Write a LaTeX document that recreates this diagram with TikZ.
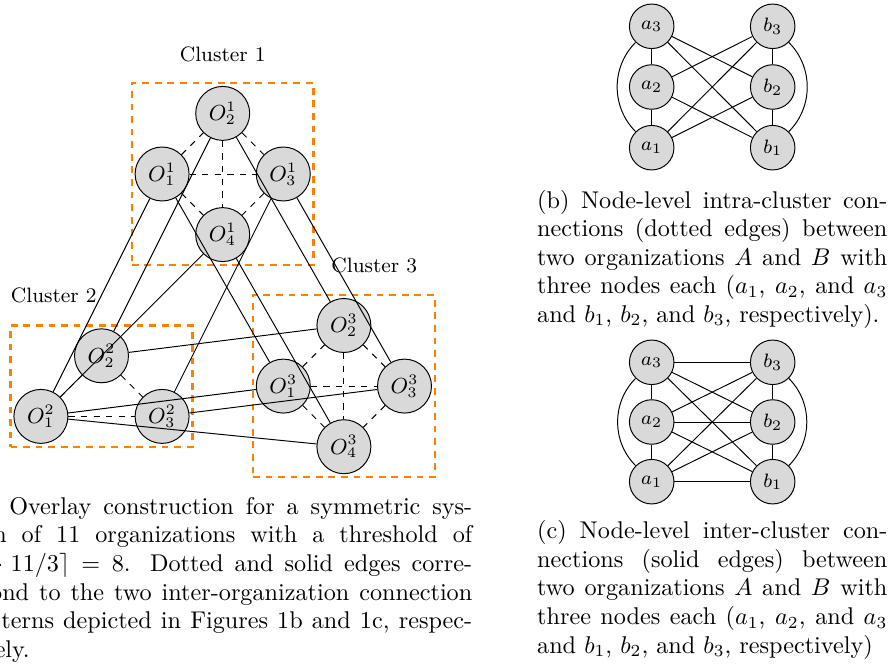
\documentclass[tikz,border=0pt]{standalone}
\usetikzlibrary{fit}
\begin{document}
\begin{tikzpicture}[x=0.4132pt,y=-0.4132pt,
  org/.style={circle,draw,fill=gray!30,inner sep=0pt,minimum size=22.3pt,
    font=\fontsize{8.6}{10}\selectfont},
  peer/.style={circle,draw,fill=gray!30,inner sep=0pt,minimum size=18.4pt,
    font=\fontsize{8.4}{10}\selectfont},
  intra/.style={dash pattern=on 2.6pt off 2.6pt},
  cluster/.style={draw=orange,line width=1pt,dash pattern=on 2.8pt off 2.4pt,inner sep=1.2pt},
  clabel/.style={font=\fontsize{8.6}{10}\selectfont,inner sep=0pt},
  capline/.style={anchor=base west,inner sep=0pt,font=\fontsize{10}{12}\selectfont}]
\useasboundingbox (0,0) rectangle (889,667);

% ---- overlay of three clusters ----
% cluster 1
\node[org] (o11) at (162.1,174.0) {$O^1_1$};
\node[org] (o12) at (222.7,113.4) {$O^1_2$};
\node[org] (o13) at (283.3,174.0) {$O^1_3$};
\node[org] (o14) at (222.7,234.6) {$O^1_4$};
% cluster 2
\node[org] (o21) at (40.9,416.4) {$O^2_1$};
\node[org] (o22) at (101.5,355.8) {$O^2_2$};
\node[org] (o23) at (162.1,416.4) {$O^2_3$};
% cluster 3
\node[org] (o31) at (283.3,386.1) {$O^3_1$};
\node[org] (o32) at (343.9,325.5) {$O^3_2$};
\node[org] (o33) at (404.5,386.1) {$O^3_3$};
\node[org] (o34) at (343.9,446.7) {$O^3_4$};

% cluster frames and titles
\node[cluster,fit=(o11)(o12)(o13)(o14)] (c1) {};
\node[cluster,fit=(o21)(o22)(o23)] (c2) {};
\node[cluster,fit=(o31)(o32)(o33)(o34)] (c3) {};
\node[clabel] (t1) at (222.7,54.2) {Cluster 1};
\node[clabel] (t2) at (53.8,295.5) {Cluster 2};
\node[clabel] (t3) at (374.3,265.5) {Cluster 3};

% intra-cluster (dotted) edges
\foreach \a/\b in {o11/o12,o12/o13,o12/o14,o11/o13,o11/o14,o13/o14,
                   o21/o22,o21/o23,o22/o23,
                   o31/o32,o32/o33,o32/o34,o31/o33,o31/o34,o33/o34}
  \draw[intra] (\a) -- (\b);

% inter-cluster (solid) edges
\foreach \a/\b in {o21/o11,o22/o12,o21/o14,o23/o13,
                   o11/o31,o12/o32,o13/o33,o14/o34,
                   o22/o32,o21/o31,o23/o33,o21/o34}
  \draw (\a) -- (\b);

% ---- pattern (b): intra-cluster connections ----
\node[peer] (ba3) at (651.7,26.3) {$a_3$};
\node[peer] (ba2) at (651.7,87.0) {$a_2$};
\node[peer] (ba1) at (651.7,147.7) {$a_1$};
\node[peer] (bb3) at (772.7,26.3) {$b_3$};
\node[peer] (bb2) at (772.7,87.0) {$b_2$};
\node[peer] (bb1) at (772.7,147.7) {$b_1$};
\draw (ba3) -- (ba2) -- (ba1);
\draw (bb3) -- (bb2) -- (bb1);
\draw (ba3) to[bend right=45] (ba1);
\draw (bb3) to[bend left=45] (bb1);
\foreach \a/\b in {ba3/bb2,ba3/bb1,ba2/bb3,ba2/bb1,ba1/bb3,ba1/bb2}
  \draw (\a) -- (\b);

% ---- pattern (c): inter-cluster connections ----
\node[peer] (ca3) at (651.7,362.3) {$a_3$};
\node[peer] (ca2) at (651.7,422.0) {$a_2$};
\node[peer] (ca1) at (651.7,481.7) {$a_1$};
\node[peer] (cb3) at (772.7,362.3) {$b_3$};
\node[peer] (cb2) at (772.7,422.0) {$b_2$};
\node[peer] (cb1) at (772.7,481.7) {$b_1$};
\draw (ca3) -- (ca2) -- (ca1);
\draw (cb3) -- (cb2) -- (cb1);
\draw (ca3) to[bend right=45] (ca1);
\draw (cb3) to[bend left=45] (cb1);
\foreach \a/\b in {ca3/cb3,ca2/cb2,ca1/cb1,
                   ca3/cb2,ca3/cb1,ca2/cb3,ca2/cb1,ca1/cb3,ca1/cb2}
  \draw (\a) -- (\b);

% ---- captions ----
\foreach \t [count=\i from 0] in {
  {\makebox[209pt][s]{(a) Overlay construction for a symmetric sys-}},
  {\makebox[209pt][s]{tem of 11 organizations with a threshold of}},
  {\makebox[209pt][s]{$\lceil 2\cdot 11/3\rceil = 8$. Dotted and solid edges corre-}},
  {\makebox[209pt][s]{spond to the two inter-organization connection}},
  {\makebox[209pt][s]{patterns depicted in Figures 1b and 1c, respec-}},
  {tively.}}
  \node[capline] (capa-\i) at (-34,514+28.7*\i) {\t};

\foreach \t [count=\i from 0] in {
  {\makebox[144.7pt][s]{(b) Node-level intra-cluster con-}},
  {\makebox[144.7pt][s]{nections (dotted edges) between}},
  {\makebox[144.7pt][s]{two organizations $A$ and $B$ with}},
  {\makebox[144.7pt][s]{three nodes each ($a_1$, $a_2$, and $a_3$}},
  {and $b_1$, $b_2$, and $b_3$, respectively).}}
  \node[capline] (capb-\i) at (536.7,208.5+28.4*\i) {\t};

\foreach \t [count=\i from 0] in {
  {\makebox[144.7pt][s]{(c) Node-level inter-cluster con-}},
  {\makebox[144.7pt][s]{nections (solid edges) between}},
  {\makebox[144.7pt][s]{two organizations $A$ and $B$ with}},
  {\makebox[144.7pt][s]{three nodes each ($a_1$, $a_2$, and $a_3$}},
  {and $b_1$, $b_2$, and $b_3$, respectively)}}
  \node[capline] (capc-\i) at (536.7,538.5+28.7*\i) {\t};
\end{tikzpicture}
\end{document}
